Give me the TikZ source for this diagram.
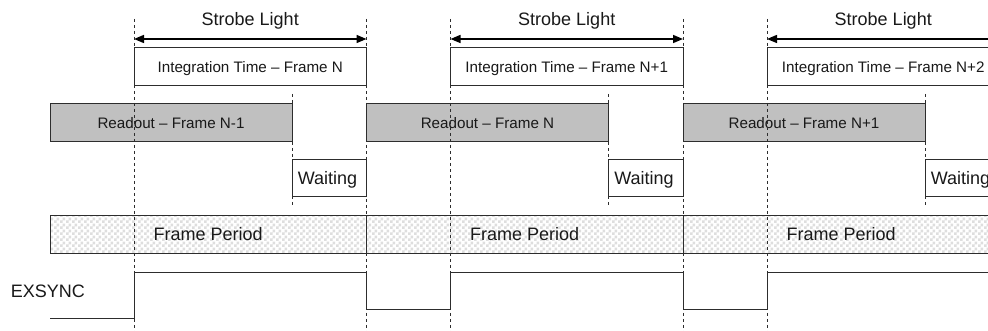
\documentclass[tikz,border=0pt]{standalone}
\usepackage{fontspec}
\setmainfont{Liberation Sans}
\usetikzlibrary{arrows.meta,patterns,fit}

% fine checkerboard used for the frame period bar
\pgfdeclarepatternformonly{finecheck}{\pgfpointorigin}{\pgfpoint{4.5pt}{4.5pt}}{\pgfpoint{4.5pt}{4.5pt}}{%
  \pgfpathrectangle{\pgfpointorigin}{\pgfpoint{2.25pt}{2.25pt}}%
  \pgfpathrectangle{\pgfpoint{2.25pt}{2.25pt}}{\pgfpoint{2.25pt}{2.25pt}}%
  \pgfusepath{fill}}

\definecolor{ink}{RGB}{45,45,45}
\definecolor{readgray}{RGB}{192,192,192}
\definecolor{checkgray}{RGB}{222,222,222}

\tikzset{
  bigtext/.style={font=\fontsize{13.5}{16}\selectfont, text=black!90, inner sep=0pt, anchor=base},
  smalltext/.style={font=\fontsize{11.4}{14}\selectfont, text=black!90, inner sep=0pt, anchor=base},
  boxline/.style={draw=ink, line width=0.75pt, inner sep=0pt},
  intbox/.style={boxline, fill=white},
  readbox/.style={boxline, fill=readgray},
  waitbox/.style={boxline, fill=white},
  framebox/.style={boxline, pattern=finecheck, pattern color=checkgray},
  guide/.style={draw=ink, line width=0.75pt, dash pattern=on 2.6pt off 1.9pt},
  strobe/.style={draw=black, line width=1.1pt,
    {Triangle[length=7.5pt,width=6pt]}-{Triangle[length=7.5pt,width=6pt]}},
  signal/.style={draw=ink, line width=0.75pt},
}

\begin{document}
\begin{tikzpicture}[x=0.75pt,y=-0.75pt]
\useasboundingbox (0,0) rectangle (988,331);
\clip (0,0) rectangle (988,331);
\fill[white] (0,0) rectangle (988,331);

% one block of boxes per frame period
\foreach \k/\integ/\rd in {0/N/N-1,1/N+1/N,2/N+2/N+1}{
  \pgfmathsetmacro\o{50+316.5*\k}
  \pgfmathsetmacro\I{\o+84}
  \pgfmathsetmacro\R{\o+242}
  \pgfmathsetmacro\E{\o+316.5}

  % frame period bar
  \coordinate (fa\k) at (\o,216);
  \coordinate (fb\k) at (\E,253.3);
  \node[framebox, fit=(fa\k)(fb\k)] (frame\k) {};
  \node[bigtext] (framelabel\k) at ({(\o+\E)/2},240.7) {Frame Period};

  % integration window
  \coordinate (ia\k) at (\I,47.7);
  \coordinate (ib\k) at (\E,85.7);
  \node[intbox, fit=(ia\k)(ib\k)] (int\k) {};
  \node[smalltext] (intlabel\k) at ({(\I+\E)/2},72.7) {Integration Time – Frame \integ};

  % readout of the previous frame
  \coordinate (ra\k) at (\o,104);
  \coordinate (rb\k) at (\R,141.7);
  \node[readbox, fit=(ra\k)(rb\k)] (read\k) {};
  \node[smalltext] (readlabel\k) at ({(\o+\R)/2},128.3) {Readout – Frame \rd};

  % waiting gap
  \coordinate (wa\k) at (\R,160);
  \coordinate (wb\k) at (\E,197);
  \node[waitbox, fit=(wa\k)(wb\k)] (wait\k) {};
  \node[bigtext, anchor=base west] (waitlabel\k) at ({\R+5.5},185) {Waiting};

  % strobe light span
  \coordinate (sa\k) at (\I,39);
  \coordinate (sb\k) at (\E,39);
  \draw[strobe] (sa\k) -- (sb\k);
  \node[bigtext] (strobelabel\k) at ({(\I+\E)/2},26) {Strobe Light};

  % guide line end points
  \coordinate (gt\k) at (\I,19);
  \coordinate (gb\k) at (\I,331);
  \coordinate (et\k) at (\E,19);
  \coordinate (eb\k) at (\E,331);
  \coordinate (rt\k) at (\R,94);
  \coordinate (rbt\k) at (\R,205);
}

% EXSYNC trigger signal
\node[bigtext, anchor=base west] (exsync) at (10.5,297.3) {EXSYNC};
\draw[signal] (50,318) -- (134,318) -- (134,272) -- (366.5,272) -- (366.5,309)
  -- (450.5,309) -- (450.5,272) -- (683,272) -- (683,309)
  -- (767,309) -- (767,272) -- (1000,272);

% dashed timing guides
\foreach \k in {0,1,2}{
  \draw[guide] (gt\k) -- (gb\k);
  \draw[guide] (rt\k) -- (rbt\k);
}
\foreach \k in {0,1}{
  \draw[guide] (et\k) -- (eb\k);
}
\end{tikzpicture}
\end{document}
